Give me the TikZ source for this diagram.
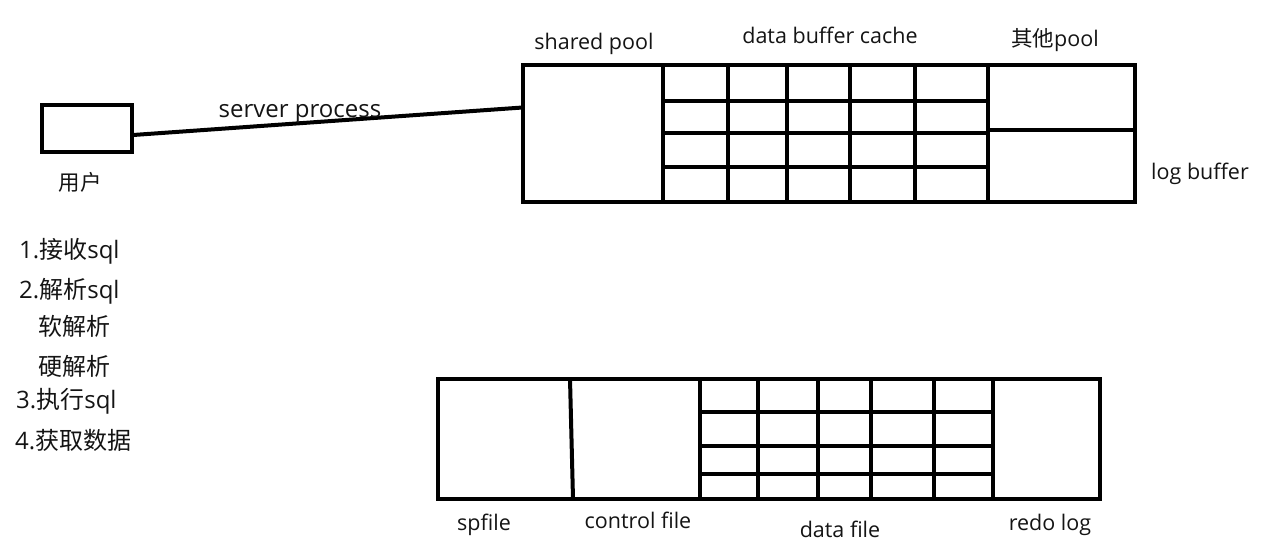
\documentclass[tikz,border=0pt]{standalone}
\usepackage{fontspec}
\setmainfont{Open Sans}
\newfontfamily\cjk{Noto Sans CJK SC}
\newcommand\zh[1]{{\cjk #1}}
\usetikzlibrary{calc}
\begin{document}
\begin{tikzpicture}[x=1pt,y=-1pt,
  box/.style={draw=black,line width=4pt,inner sep=0pt,outer sep=0pt,rectangle},
  grid/.style={line width=4pt,black},
  lbl/.style={inner sep=0pt,anchor=base,font=\fontsize{21.5}{26}\selectfont,text=black!92},
  big/.style={lbl,font=\fontsize{24}{28}\selectfont},
  item/.style={big,anchor=base west}]
\useasboundingbox (0,0) rectangle (1284,543);
% user
\node[box,minimum width=90pt,minimum height=47pt,anchor=north west] (user) at (42,105) {};
\node[lbl] (userlbl) at (80,190) {\zh{用户}};
% SGA
\node[box,minimum width=612pt,minimum height=137pt,anchor=north west] (sga) at (523,65) {};
\draw[grid] (663,65) -- (663,202);
\foreach \x in {728,787,850,915} \draw[grid] (\x,65) -- (\x,202);
\draw[grid] (988,65) -- (988,202);
\foreach \y in {101,133,167} \draw[grid] (663,\y) -- (988,\y);
\draw[grid] (988,130) -- (1135,130);
\node[lbl] (sp) at (594,49) {shared pool};
\node[lbl] (dbc) at (830,44) {data buffer cache};
\node[lbl] (other) at (1055,47) {\zh{其他}pool};
\node[lbl] (logb) at (1200,179) {log buffer};
% connector
\coordinate (uE) at ($(user.south east)!0.36!(user.north east)$);
\coordinate (sW) at ($(sga.north west)!0.31!(sga.south west)$);
\draw[line width=4pt] (uE) -- (sW);
\node[big] (serverp) at (300,117) {server process};
% list
\node[item] (s1) at (19,258) {1.\zh{接收}sql};
\node[item] (s2) at (19,298) {2.\zh{解析}sql};
\node[item] (s2a) at (38,335) {\zh{软解析}};
\node[item] (s2b) at (38,375) {\zh{硬解析}};
\node[item] (s3) at (16,408) {3.\zh{执行}sql};
\node[item] (s4) at (15,449) {4.\zh{获取数据}};
% files
\node[box,minimum width=662pt,minimum height=120pt,anchor=north west] (files) at (438,379) {};
\draw[grid] (570,379) -- (573,499);
\foreach \x in {700,758,818,871,934,993} \draw[grid] (\x,379) -- (\x,499);
\foreach \y in {412,446,474} \draw[grid] (700,\y) -- (993,\y);
\node[lbl] (spf) at (484,530) {spfile};
\node[lbl] (cf) at (638,528) {control file};
\node[lbl] (df) at (840,537) {data file};
\node[lbl] (redo) at (1050,530) {redo log};
\end{tikzpicture}
\end{document}
